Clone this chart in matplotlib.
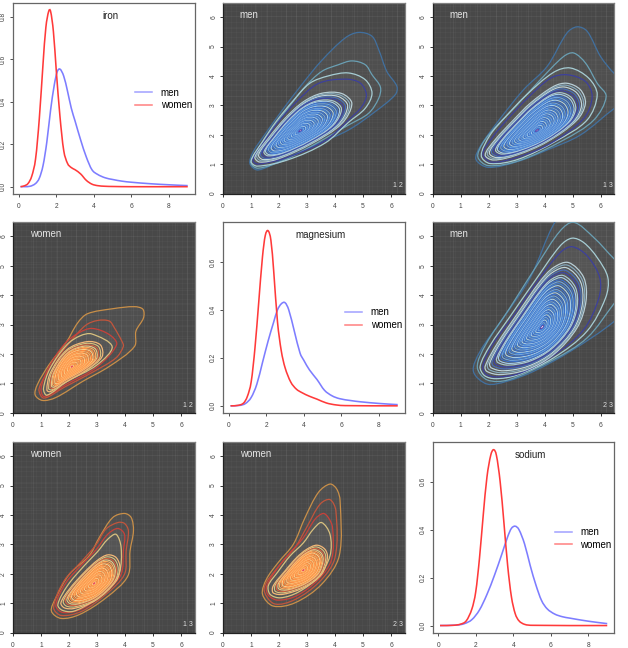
"""Matriz de densidades: marginales (hombres/mujeres) y contornos por pares."""
import matplotlib

matplotlib.use("Agg")
import matplotlib.pyplot as plt
import numpy as np
from matplotlib.patches import PathPatch
from matplotlib.path import Path

plt.rcParams["font.family"] = ["Liberation Sans", "DejaVu Sans"]

# --- densidades marginales (x, y)
IRON_MEN = [(0.1, 0), (0.6, 0.002), (0.9, 0.015), (1.1, 0.04), (1.3, 0.10), (1.5, 0.21), (1.7, 0.36),
            (1.9, 0.48), (2.05, 0.54), (2.2, 0.553), (2.4, 0.52), (2.6, 0.45), (2.8, 0.37), (3.0, 0.31),
            (3.3, 0.22), (3.6, 0.14), (3.9, 0.08), (4.2, 0.058), (4.6, 0.042), (5, 0.034), (5.5, 0.026),
            (6, 0.021), (7, 0.014), (8, 0.009), (9, 0.005)]
IRON_WOMEN = [(0.1, 0), (0.3, 0.004), (0.5, 0.015), (0.7, 0.05), (0.9, 0.13), (1.1, 0.32), (1.3, 0.58),
              (1.45, 0.75), (1.6, 0.825), (1.7, 0.825), (1.85, 0.73), (2.0, 0.55), (2.2, 0.33), (2.4, 0.17),
              (2.6, 0.11), (2.8, 0.09), (3.0, 0.08), (3.3, 0.06), (3.6, 0.03), (3.9, 0.012), (4.2, 0.005),
              (4.6, 0.002), (5, 0.001), (6, 0), (9, 0)]
MAGNESIUM_MEN = [(0.1, 0), (0.6, 0.002), (0.9, 0.01), (1.2, 0.035), (1.5, 0.09), (1.8, 0.18), (2.1, 0.27),
                 (2.4, 0.35), (2.6, 0.40), (2.8, 0.425), (3.0, 0.43), (3.2, 0.40), (3.5, 0.31), (3.8, 0.22),
                 (4.0, 0.19), (4.3, 0.15), (4.7, 0.11), (5.1, 0.065), (5.5, 0.042), (5.9, 0.03), (6.5, 0.022),
                 (7, 0.017), (8, 0.01), (9, 0.005)]
MAGNESIUM_WOMEN = [(0.1, 0), (0.5, 0.002), (0.8, 0.012), (1.0, 0.04), (1.2, 0.10), (1.4, 0.24), (1.6, 0.43),
                   (1.8, 0.62), (1.95, 0.71), (2.1, 0.73), (2.25, 0.69), (2.4, 0.56), (2.6, 0.35), (2.8, 0.23),
                   (3.0, 0.16), (3.3, 0.10), (3.6, 0.07), (3.9, 0.055), (4.3, 0.04), (4.7, 0.028), (5.2, 0.012),
                   (5.7, 0.004), (6.2, 0.001), (9, 0)]
SODIUM_MEN = [(0.1, 0), (1, 0.002), (1.4, 0.008), (1.8, 0.025), (2.2, 0.065), (2.6, 0.13), (3.0, 0.21),
              (3.4, 0.30), (3.7, 0.37), (3.9, 0.405), (4.1, 0.414), (4.3, 0.40), (4.6, 0.34), (4.9, 0.25),
              (5.2, 0.17), (5.5, 0.105), (5.8, 0.07), (6.2, 0.048), (6.6, 0.037), (7, 0.031), (8, 0.018),
              (9, 0.008)]
SODIUM_WOMEN = [(0.1, 0), (0.8, 0.001), (1.2, 0.006), (1.5, 0.02), (1.8, 0.07), (2.0, 0.14), (2.2, 0.28),
                (2.4, 0.46), (2.6, 0.62), (2.8, 0.71), (2.95, 0.733), (3.1, 0.71), (3.3, 0.60), (3.5, 0.43),
                (3.7, 0.25), (3.9, 0.12), (4.1, 0.05), (4.3, 0.02), (4.6, 0.005), (5, 0.001), (9, 0)]

# --- contornos: los cuatro exteriores y el anillo base de los interiores
MEN_12_CENTER = (2.75, 2.13)
MEN_12 = [
    [(0.96, 1.02), (1.25, 0.80), (2.09, 1.14), (3.29, 1.65), (4.48, 2.16), (5.44, 2.79), (6.15, 3.36), (6.21, 3.64),
     (5.85, 4.15), (5.56, 4.89), (5.32, 5.35), (4.84, 5.48), (4.36, 5.29), (3.52, 4.52), (2.81, 3.70), (2.09, 2.80),
     (1.49, 2.0), (1.08, 1.42)],
    [(1.0, 1.03), (1.25, 0.86), (2.2, 1.14), (3.4, 1.74), (4.48, 2.33), (5.20, 2.73), (5.56, 3.24), (5.62, 3.62),
     (5.32, 4.04), (5.08, 4.38), (4.60, 4.51), (4.12, 4.38), (3.52, 4.15), (2.9, 3.6), (2.2, 2.75), (1.6, 1.98),
     (1.15, 1.38)],
    [(1.0, 1.1), (1.22, 0.93), (2.33, 1.15), (3.65, 1.72), (4.48, 2.42), (5.08, 2.90), (5.32, 3.41), (5.08, 3.87),
     (4.48, 4.10), (3.76, 4.00), (3.1, 3.75), (2.5, 3.15), (1.9, 2.45), (1.38, 1.72)],
    [(1.07, 1.13), (1.25, 1.0), (2.33, 1.24), (3.65, 1.8), (4.48, 2.5), (4.96, 2.96), (5.12, 3.36), (4.90, 3.76),
     (4.36, 3.89), (3.4, 3.74), (2.57, 3.07), (1.97, 2.43), (1.43, 1.7)],
    [(1.14, 1.24), (1.31, 1.07), (1.97, 1.18), (3.17, 1.70), (4.24, 2.38), (4.6, 3.06), (4.24, 3.4), (3.53, 3.41),
     (2.87, 3.12), (2.21, 2.55), (1.61, 1.87)],
]
MEN_13_CENTER = (3.73, 2.14)
MEN_13 = [
    [(1.55, 1.16), (1.99, 0.89), (3.01, 1.08), (4.09, 1.48), (5.28, 1.99), (6.5, 2.90), (7.3, 3.4), (6.5, 4.07),
     (6.0, 4.66), (5.52, 5.52), (5.16, 5.67), (4.80, 5.46), (4.09, 4.32), (3.25, 3.53), (2.29, 2.39), (1.70, 1.59)],
    [(1.62, 1.24), (1.99, 0.95), (3.1, 1.12), (4.68, 1.82), (5.76, 2.50), (6.2, 3.30), (5.88, 3.75), (5.46, 4.44),
     (5.04, 4.78), (4.68, 4.66), (3.85, 3.87), (3.01, 3.0), (2.29, 2.3), (1.8, 1.72)],
    [(1.74, 1.29), (2.05, 1.02), (3.05, 1.16), (4.4, 1.78), (5.52, 2.50), (5.88, 3.36), (5.58, 3.92), (4.92, 4.27),
     (4.32, 4.12), (3.35, 3.35), (2.6, 2.6), (2.05, 1.98)],
    [(1.80, 1.35), (2.1, 1.07), (3.0, 1.22), (4.2, 1.70), (5.40, 2.55), (5.70, 3.30), (5.46, 3.81), (4.80, 4.04),
     (4.21, 3.92), (3.40, 3.25), (2.7, 2.55), (2.15, 1.92)],
    [(1.88, 1.31), (2.17, 1.14), (3.01, 1.31), (4.09, 1.76), (5.16, 2.50), (5.46, 3.07), (5.28, 3.53), (4.80, 3.75),
     (4.32, 3.64), (3.49, 3.07), (2.89, 2.50), (2.23, 1.82)],
]
MEN_23_CENTER = (3.91, 2.91)
MEN_23 = [
    [(1.46, 1.41), (1.94, 0.98), (2.65, 1.07), (3.61, 1.41), (4.92, 2.09), (6.5, 3.12), (7.6, 4.2), (7.0, 6.5),
     (5.5, 7.8), (4.38, 6.5), (3.49, 4.6), (2.53, 3.23), (1.70, 2.09)],
    [(1.6, 1.55), (1.95, 1.12), (2.7, 1.12), (4.32, 1.81), (5.52, 2.55), (6.5, 3.74), (7.2, 4.6), (6.5, 5.22),
     (5.76, 5.96), (5.04, 6.48), (4.56, 6.19), (3.75, 5.05), (2.75, 3.55), (1.9, 2.32)],
    [(1.70, 1.58), (1.85, 1.27), (2.25, 1.16), (3.01, 1.28), (4.32, 1.87), (5.52, 2.78), (6.18, 3.91), (6.26, 4.60),
     (5.88, 5.28), (5.40, 5.79), (4.98, 5.94), (4.56, 5.68), (3.65, 4.48), (2.75, 3.25), (2.05, 2.28)],
    [(1.80, 1.60), (1.9, 1.32), (2.3, 1.22), (3.13, 1.35), (4.32, 1.95), (5.40, 2.83), (5.94, 3.91), (5.97, 4.60),
     (5.52, 5.34), (4.98, 5.65), (4.56, 5.45), (3.75, 4.48), (2.85, 3.25), (2.15, 2.32)],
    [(1.88, 1.58), (1.94, 1.41), (2.41, 1.30), (3.37, 1.47), (4.32, 1.98), (5.16, 2.89), (5.48, 3.80), (5.40, 4.60),
     (4.86, 5.11), (4.32, 4.94), (3.85, 4.48), (3.01, 3.34), (2.29, 2.32)],
]
WOMEN_12_CENTER = (2.10, 1.57)
WOMEN_12 = [
    [(0.79, 0.61), (1.05, 0.42), (1.53, 0.52), (2.49, 1.07), (3.44, 1.58), (4.34, 2.26), (4.39, 2.78), (4.66, 3.23),
     (4.64, 3.52), (4.34, 3.61), (3.56, 3.54), (2.66, 3.37), (2.31, 3.06), (1.89, 2.38), (1.29, 1.64), (0.87, 0.96)],
    [(0.93, 0.82), (1.1, 0.5), (1.85, 0.88), (2.84, 1.38), (3.68, 1.87), (3.94, 2.26), (3.89, 2.43), (3.62, 2.89),
     (3.44, 3.12), (3.02, 3.14), (2.6, 2.98), (2.05, 2.42), (1.4, 1.62)],
    [(1.0, 0.82), (1.12, 0.55), (1.92, 0.98), (3.0, 1.56), (3.70, 2.32), (3.44, 2.66), (2.82, 2.87), (2.35, 2.72),
     (1.85, 2.35), (1.28, 1.55)],
    [(1.09, 0.83), (1.21, 0.60), (1.92, 1.06), (3.0, 1.63), (3.54, 2.25), (2.82, 2.68), (2.40, 2.62), (1.92, 2.31),
     (1.33, 1.52)],
    [(1.21, 0.77), (1.33, 0.72), (1.80, 1.0), (2.64, 1.46), (3.18, 1.91), (3.12, 2.31), (2.64, 2.42), (1.92, 2.14),
     (1.33, 1.35)],
]
WOMEN_13_CENTER = (2.90, 1.67)
WOMEN_13 = [
    [(1.37, 0.73), (1.71, 0.48), (2.37, 0.61), (3.32, 1.18), (4.10, 1.92), (4.18, 2.78), (4.30, 3.46), (4.22, 3.91),
     (3.98, 4.05), (3.56, 3.91), (3.08, 3.23), (2.72, 2.61), (2.01, 1.98), (1.53, 1.18)],
    [(1.45, 0.85), (1.72, 0.58), (2.45, 0.72), (3.32, 1.30), (3.98, 1.98), (4.04, 2.78), (4.12, 3.46), (3.98, 3.71),
     (3.74, 3.74), (3.32, 3.52), (2.96, 2.98), (2.45, 2.42), (1.82, 1.75)],
    [(1.53, 0.92), (1.78, 0.68), (2.45, 0.8), (3.32, 1.39), (3.86, 1.98), (3.94, 2.78), (3.98, 3.34), (3.74, 3.54),
     (3.38, 3.34), (2.98, 2.83), (2.5, 2.35), (1.88, 1.68)],
    [(1.6, 0.95), (1.75, 0.76), (2.15, 0.72), (2.8, 1.03), (3.45, 1.55), (3.80, 2.04), (3.86, 2.89), (3.68, 3.34),
     (3.38, 3.17), (3.02, 2.75), (2.55, 2.28), (1.95, 1.6)],
    [(1.71, 1.01), (1.83, 0.84), (2.19, 0.82), (2.96, 1.10), (3.68, 1.75), (3.82, 2.21), (3.68, 2.55), (3.38, 2.64),
     (3.02, 2.46), (2.54, 2.04), (2.01, 1.47)],
]
WOMEN_23_CENTER = (2.87, 2.12)
WOMEN_23 = [
    [(1.41, 1.30), (1.79, 0.90), (2.57, 1.01), (3.52, 1.64), (4.15, 2.61), (4.18, 4.48), (4.06, 4.88), (3.82, 5.05),
     (3.41, 4.77), (2.93, 3.91), (2.51, 3.0), (1.97, 2.38), (1.55, 1.81)],
    [(1.47, 1.5), (1.82, 0.98), (2.57, 1.12), (3.47, 1.75), (4.0, 2.55), (4.03, 4.14), (3.82, 4.52), (3.47, 4.37),
     (3.0, 3.6), (2.58, 2.9), (2.03, 2.3)],
    [(1.55, 1.55), (1.62, 1.27), (1.95, 1.1), (2.63, 1.25), (3.41, 1.81), (3.88, 2.49), (3.91, 3.57), (3.76, 3.91),
     (3.58, 4.05), (3.29, 3.86), (2.85, 3.2), (2.33, 2.65), (1.88, 2.1)],
    [(1.62, 1.6), (1.68, 1.3), (2.05, 1.18), (2.7, 1.38), (3.41, 1.9), (3.82, 2.61), (3.82, 3.34), (3.52, 3.74),
     (3.23, 3.52), (2.87, 3.05), (2.39, 2.6), (1.95, 2.05)],
    [(1.79, 1.58), (1.79, 1.35), (2.15, 1.30), (2.93, 1.55), (3.52, 1.98), (3.73, 2.55), (3.64, 2.83), (3.35, 2.97),
     (2.99, 2.83), (2.63, 2.55), (2.21, 2.09)],
]

# tamanos relativos de los anillos interiores
MEN_SCALES = [0.96, 0.92, 0.88, 0.84, 0.8, 0.765, 0.73, 0.7, 0.67, 0.64, 0.61, 0.58, 0.555, 0.53, 0.505, 0.48,
              0.455, 0.43, 0.41, 0.39, 0.37, 0.35, 0.33, 0.31, 0.29, 0.27, 0.25, 0.23, 0.21, 0.19, 0.17, 0.15,
              0.13, 0.11, 0.09, 0.07, 0.05]
WOMEN_SCALES = [0.93, 0.87, 0.82, 0.77, 0.72, 0.68, 0.64, 0.6, 0.56, 0.53, 0.5, 0.47, 0.44, 0.41, 0.38, 0.35,
                0.32, 0.29, 0.26, 0.23, 0.2, 0.17, 0.14, 0.11, 0.08, 0.05]
GRID_BRIGHT = [0.72, 1.13, 1.58, 2.25, 2.62, 3.04, 3.42, 3.85, 4.3, 4.68, 5.23, 5.8, 6.21]

DENSITY_X_TICKS = [0, 2, 4, 6, 8]
PAIR_TICKS = [0, 1, 2, 3, 4, 5, 6]
MEN_OUTER_COLORS = ["#41709f", "#6aa0b4", "#a6cdd4", "#3d409c", "#b9cfd6"]
WOMEN_OUTER_COLORS = ["#c98f48", "#c2553c", "#c8413a", "#d8c07e", "#f4b878"]
MEN_MID_COLORS = ["#86aabd", "#c0d6dc", "#4a6fb8", "#3d45a5", "#a8c8d4"]
MEN_INNER_COLORS = ["#3f7fd8", "#a4cbea", "#3a70cc", "#6fa4e0"]
WOMEN_MID_COLORS = ["#d8c07e", "#d0603f", "#e8c888", "#e87f48"]
WOMEN_INNER_COLORS = ["#ff9346", "#ffd08a", "#ff8a3e", "#ffae60"]

FIG_W, FIG_H = 628, 648
COL_LEFT = [13, 223, 432.5]
ROW_TOP = [3, 222.3, 442]
PANEL_W, PANEL_H = 181.5, 190.5


def smooth_path(points, closed=True):
    """Curva suave por los puntos, con tangentes ponderadas por la longitud de cuerda."""
    pts = np.asarray(points, dtype=float)
    if closed:
        pts = np.vstack([pts[-1], pts, pts[0], pts[1]])
    else:
        pts = np.vstack([pts[0], pts, pts[-1]])
    seg = np.maximum(np.hypot(*np.diff(pts, axis=0).T), 1e-9)
    tan = np.zeros_like(pts)
    tan[1:-1] = (pts[2:] - pts[:-2]) / (seg[:-1] + seg[1:])[:, None]
    verts = [pts[1]]
    codes = [Path.MOVETO]
    for i in range(1, len(pts) - 2):
        handle = seg[i] / 3
        verts += [pts[i] + tan[i] * handle, pts[i + 1] - tan[i + 1] * handle, pts[i + 1]]
        codes += [Path.CURVE4] * 3
    return Path(verts, codes)


def make_axes(fig, col, row):
    left = COL_LEFT[col] / FIG_W
    bottom = 1 - (ROW_TOP[row] + PANEL_H) / FIG_H
    return fig.add_axes([left, bottom, PANEL_W / FIG_W, PANEL_H / FIG_H])


def style_ticks(ax, color="#333333"):
    ax.tick_params(length=2.2, width=0.6, labelsize=4.8, color=color, labelcolor="#444444")
    ax.tick_params(axis="x", pad=4.5)
    ax.tick_params(axis="y", pad=2)
    for lab in ax.get_yticklabels():
        lab.set_rotation(90)
        lab.set_va("center")


def density_panel(fig, col, row, title, men, women, ylim, yticks, legend_y):
    ax = make_axes(fig, col, row)
    for pts, color, name, soft in [(men, "#7d7dff", "men", "#a0a0ff"), (women, "#ff3a3a", "women", "#ff8080")]:
        ax.add_patch(PathPatch(smooth_path(pts, closed=False), fc="none", ec=color, lw=1.15))
        ax.plot([], [], color=soft, lw=1.1, label=name)
    ax.set_xlim(-0.3, 9.36)
    ax.set_ylim(*ylim)
    ax.set_xticks(DENSITY_X_TICKS)
    ax.set_yticks(yticks, [f"{v:.1f}" for v in yticks])
    style_ticks(ax)
    for spine in ax.spines.values():
        spine.set_color("#666666")
        spine.set_linewidth(0.9)
    ax.text(0.538, 0.933, title, transform=ax.transAxes, ha="center", va="center", fontsize=7, color="#222222")
    ax.legend(loc="center right", bbox_to_anchor=(0.985, legend_y), frameon=False, fontsize=7, handlelength=1.75,
              handletextpad=0.85, labelspacing=0.25, borderaxespad=0, borderpad=0)
    return ax


def pair_panel(fig, col, row, name, pair, rings, center, scales, outer_colors, mid_colors, inner_colors,
               core_color, label_x):
    ax = make_axes(fig, col, row)
    ax.set_facecolor("#484848")
    for v in np.arange(0.09, 6.5, 0.18):
        ax.axvline(v, color="white", alpha=0.035, lw=0.45, zorder=1)
        ax.axhline(v, color="white", alpha=0.035, lw=0.45, zorder=1)
    for v in GRID_BRIGHT:
        ax.axvline(v, color="white", alpha=0.06, lw=0.6, zorder=1)
        ax.axhline(v * 0.97, color="white", alpha=0.04, lw=0.6, zorder=1)

    # halo tenue bajo los contornos
    ax.add_patch(PathPatch(smooth_path(rings[0]), fc="white", ec="none", alpha=0.04, zorder=2))
    ax.add_patch(PathPatch(smooth_path(rings[2]), fc="white", ec="none", alpha=0.04, zorder=2))

    for pts, color in zip(rings, outer_colors):
        ax.add_patch(PathPatch(smooth_path(pts), fc="none", ec=color, lw=0.9, zorder=3))

    base = np.asarray(rings[-1])
    cen = np.asarray(center)
    for i, s in enumerate(scales):
        palette = mid_colors if s > 0.78 else inner_colors
        ring = cen + s * (base - cen)
        ax.add_patch(PathPatch(smooth_path(ring), fc="none", ec=palette[i % len(palette)], lw=0.85, zorder=4))
    core = cen + 0.03 * (base - cen)
    ax.add_patch(PathPatch(smooth_path(core), fc="white", ec=core_color, lw=0.6, zorder=5))

    ax.set_xlim(0, 6.48)
    ax.set_ylim(0, 6.48)
    ax.set_xticks(PAIR_TICKS)
    ax.set_yticks(PAIR_TICKS, [str(v) for v in PAIR_TICKS])
    style_ticks(ax, color="#111111")
    for side, spine in ax.spines.items():
        spine.set_color("#222222" if side in ("left", "bottom") else "#808080")
        spine.set_linewidth(0.9)
    ax.text(label_x, 6.07, name, ha="center", va="center", fontsize=7, color="#e4e4e4", zorder=6)
    ax.text(6.25, 0.26, pair, ha="center", va="center", fontsize=5, color="#dddddd", zorder=6)
    return ax


fig = plt.figure(figsize=(FIG_W / 100, FIG_H / 100), dpi=100)

density_panel(fig, 0, 0, "iron", IRON_MEN, IRON_WOMEN, (-0.032, 0.864), [0, 0.2, 0.4, 0.6, 0.8], 0.497)
density_panel(fig, 1, 1, "magnesium", MAGNESIUM_MEN, MAGNESIUM_WOMEN, (-0.029, 0.765), [0, 0.2, 0.4, 0.6], 0.494)
density_panel(fig, 2, 2, "sodium", SODIUM_MEN, SODIUM_WOMEN, (-0.029, 0.765), [0, 0.2, 0.4, 0.6], 0.494)

men_style = (MEN_SCALES, MEN_OUTER_COLORS, MEN_MID_COLORS, MEN_INNER_COLORS, "#5a3fa8", 0.93)
women_style = (WOMEN_SCALES, WOMEN_OUTER_COLORS, WOMEN_MID_COLORS, WOMEN_INNER_COLORS, "#e8505a", 1.15)
pair_panel(fig, 1, 0, "men", "1 2", MEN_12, MEN_12_CENTER, *men_style)
pair_panel(fig, 2, 0, "men", "1 3", MEN_13, MEN_13_CENTER, *men_style)
pair_panel(fig, 2, 1, "men", "2 3", MEN_23, MEN_23_CENTER, *men_style)
pair_panel(fig, 0, 1, "women", "1 2", WOMEN_12, WOMEN_12_CENTER, *women_style)
pair_panel(fig, 0, 2, "women", "1 3", WOMEN_13, WOMEN_13_CENTER, *women_style)
pair_panel(fig, 1, 2, "women", "2 3", WOMEN_23, WOMEN_23_CENTER, *women_style)

fig.savefig("out.png", dpi=100)
